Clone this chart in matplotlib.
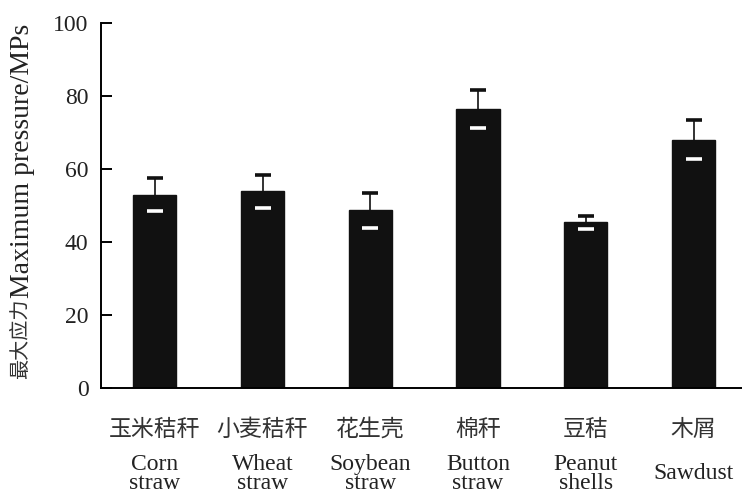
import numpy as np
import matplotlib
matplotlib.use('Agg')
import matplotlib.pyplot as plt

plt.rcParams['font.family'] = ['Liberation Serif', 'Noto Sans CJK SC']

# mean maximum pressure and its standard deviation per raw material
names_cn = ['玉米秸秆', '小麦秸秆', '花生壳', '棉秆', '豆秸', '木屑']
names_en = ['Corn\nstraw', 'Wheat\nstraw', 'Soybean\nstraw', 'Button\nstraw', 'Peanut\nshells', 'Sawdust']
pressure = [52.9, 53.8, 48.6, 76.3, 45.3, 68.0]
pressure_sd = [4.6, 4.5, 4.8, 5.2, 1.8, 5.3]
yticks = [0, 20, 40, 60, 80, 100]

fig = plt.figure(figsize=(7.42, 4.94), dpi=100)
ax = fig.add_axes([0.136, 0.215, 0.864, 0.739])

x = np.arange(len(pressure))
ax.bar(x, pressure, width=0.4, color='#111111', edgecolor='#111111', zorder=2)
eb = ax.errorbar(x, pressure, yerr=pressure_sd, fmt='none', ecolor='#111111',
                 elinewidth=1.2, capsize=5.5, capthick=2.6, zorder=3)
# lower caps sit inside the dark bars, so draw them white
eb[1][0].set_color('white')
eb[1][0].set_markeredgecolor('white')

ax.set_xlim(-0.5, 5.45)
ax.set_ylim(0, 100)
ax.set_yticks(yticks)
ax.set_xticks([])
ax.spines['top'].set_visible(False)
ax.spines['right'].set_visible(False)
ax.spines['left'].set_linewidth(1.4)
ax.spines['bottom'].set_linewidth(1.4)
ax.tick_params(axis='y', direction='in', length=8, width=1.4, pad=9, labelsize=17,
               labelcolor='#222222')

# y label: Chinese part smaller than the English part
ax.text(-0.123, 0.245, 'Maximum pressure/MPs', rotation=90, transform=ax.transAxes,
        ha='center', va='bottom', fontsize=20, color='#222222')
ax.text(-0.125, 0.245, '最大应力', rotation=90, transform=ax.transAxes,
        ha='center', va='top', fontsize=14.5, family=['Noto Sans CJK SC'], color='#333333')

for i in range(len(names_cn)):
    ax.annotate(names_cn[i], xy=(x[i], 0), xycoords=('data', 'axes fraction'),
                xytext=(0, -30), textcoords='offset points', ha='center', va='center',
                fontsize=16.5, family=['Noto Sans CJK SC'], color='#333333')
    ax.annotate(names_en[i], xy=(x[i], 0), xycoords=('data', 'axes fraction'),
                xytext=(0, -62), textcoords='offset points', ha='center', va='center',
                fontsize=17, linespacing=0.88, color='#222222')

fig.savefig('out.png', dpi=100)
